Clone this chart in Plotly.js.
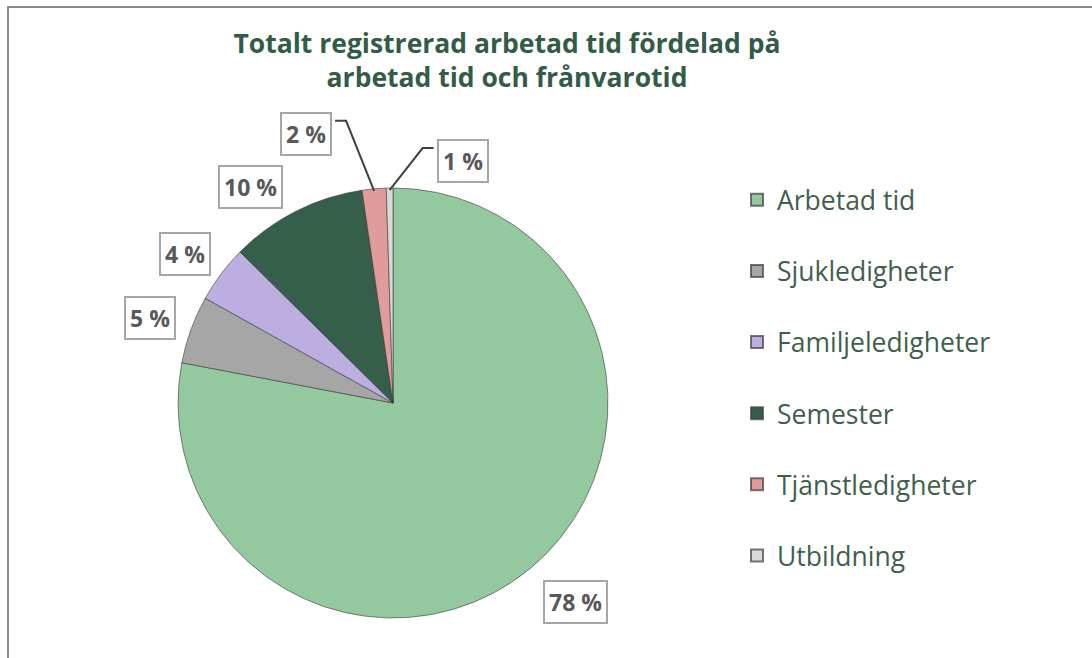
<!DOCTYPE html>
<html>
<head>
<meta charset="utf-8">
<script src="https://cdn.plot.ly/plotly-3.0.1.min.js"></script>
<style>
  html, body { margin: 0; padding: 0; background: #ffffff; }
  #chart { width: 1092px; height: 658px; }
</style>
</head>
<body>
<div id="chart"></div>
<script>
// ---- data ----
const categories = ["Arbetad tid", "Sjukledigheter", "Familjeledigheter", "Semester", "Tjänstledigheter", "Utbildning"];
const shares = [78.0, 5.1, 4.3, 10.3, 1.8, 0.5];
const colors = ["#94c89e", "#a6a6a6", "#bcaee0", "#365f4b", "#df9c9a", "#d9d9d9"];
const titleText = "Totalt registrerad arbetad tid fördelad på<br>arbetad tid och frånvarotid";

// ---- layout helpers (pixels -> paper) ----
const W = 1092, H = 658;
const px = x => x / W;
const py = y => 1 - y / H;
const C = { x: 393, y: 403 }, R = 215;   // pie centre / radius in px

// label offsets from slice edge (px) and whether a leader line is drawn
const labelOffset = [[45, 33], [-41, -12], [-36, -20], [-45, -24], [-68, -55], [73, -27]];
const leader = [false, false, false, false, true, true];

const total = shares.reduce((a, b) => a + b, 0);
let cum = 0;
const annotations = [];
const shapes = [];
shares.forEach((v, i) => {
  const mid = (cum + v / 2) / total * 2 * Math.PI;
  cum += v;
  const ex = C.x + R * Math.sin(mid), ey = C.y - R * Math.cos(mid);
  const lx = ex + labelOffset[i][0], ly = ey + labelOffset[i][1];
  annotations.push({
    x: px(lx), y: py(ly), xref: "paper", yref: "paper",
    xanchor: "center", yanchor: "middle", showarrow: false,
    text: Math.round(v) + " %",
    font: { family: "Open Sans", size: 23, color: "#595959", weight: 700 },
    bgcolor: "#ffffff", bordercolor: "#a6a6a6", borderwidth: 2, borderpad: 4
  });
  if (leader[i]) {
    const side = labelOffset[i][0] < 0 ? 1 : -1;     // which side of the box the line enters
    const boxEdge = lx + side * 29;
    const elbowX = boxEdge + side * 11, elbowY = ly - 13;
    shapes.push({
      type: "path", xref: "paper", yref: "paper",
      path: `M ${px(ex)} ${py(ey + 2)} L ${px(elbowX)} ${py(elbowY)} L ${px(boxEdge)} ${py(elbowY)}`,
      line: { color: "#404040", width: 2 }
    });
  }
});

// chart frame (top and left edges visible)
shapes.push({
  type: "path", xref: "paper", yref: "paper",
  path: `M ${px(8)} ${py(H)} L ${px(8)} ${py(7)} L ${px(W)} ${py(7)}`,
  line: { color: "#8c8c8c", width: 2 }
});

const pie = {
  type: "pie",
  labels: categories,
  values: shares,
  sort: false,
  direction: "clockwise",
  rotation: 0,
  textinfo: "none",
  hoverinfo: "label+percent",
  showlegend: false,
  marker: { colors: colors, line: { color: "rgba(50,50,50,0.55)", width: 1 } },
  domain: { x: [px(C.x - R), px(C.x + R)], y: [py(C.y + R), py(C.y - R)] }
};

// legend entries
const legendTraces = categories.map((c, i) => ({
  type: "scatter", x: [null], y: [null], mode: "markers",
  name: c, legendgroup: c, showlegend: true, hoverinfo: "skip",
  marker: { symbol: "square", size: 13, color: colors[i], line: { color: "rgba(60,60,60,0.7)", width: 1 } }
}));

const layout = {
  width: W, height: H,
  margin: { l: 0, r: 0, t: 0, b: 0 },
  paper_bgcolor: "#ffffff", plot_bgcolor: "#ffffff",
  xaxis: { visible: false }, yaxis: { visible: false },
  title: {
    text: titleText, xref: "container", yref: "container",
    x: px(507), xanchor: "center", y: py(53), yanchor: "top",
    font: { family: "Open Sans", size: 26.5, color: "#335c47", weight: 700 }
  },
  legend: {
    x: px(737), xanchor: "left", y: py(176), yanchor: "top",
    font: { family: "Open Sans", size: 26.5, color: "#3f5f4d" },
    tracegroupgap: 33.7, itemsizing: "constant", bgcolor: "rgba(0,0,0,0)"
  },
  annotations: annotations,
  shapes: shapes
};

Plotly.newPlot("chart", [pie].concat(legendTraces), layout, { displayModeBar: false, staticPlot: true });
</script>
</body>
</html>
